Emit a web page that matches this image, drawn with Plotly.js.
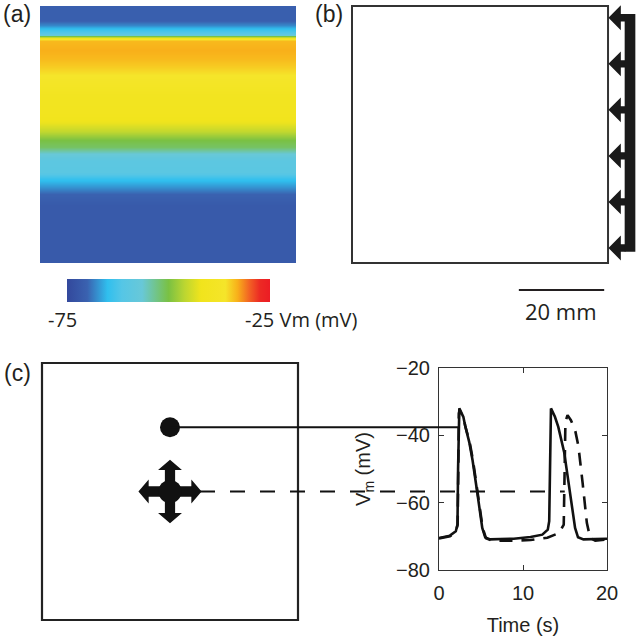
<!DOCTYPE html>
<html>
<head>
<meta charset="utf-8">
<script src="https://cdn.plot.ly/plotly-3.0.1.min.js"></script>
<style>
  html, body { margin: 0; padding: 0; background: #fff; }
  #chart { width: 637px; height: 638px; }
</style>
</head>
<body>
<div id="chart"></div>
<script>
// (a) Vm across the sheet, depth measured from the top edge (mm)
const depthMm = [0, 3.3, 4.4, 5.4, 6.3, 6.9, 7.1, 7.4, 7.7, 8.2, 10.3, 12.1, 14.0, 16.1, 18.5, 20.8, 25.5, 27.3, 29.2, 31.3, 32.9, 34.3, 36.0, 38.8, 40.4, 42.0, 43.9, 46.5, 60];
const vmProfile = [-70.5, -70.5, -68, -64.5, -61, -55, -50, -42, -36, -33.5, -33, -33.5, -34.5, -36, -38, -40, -41, -42.5, -45.5, -50, -51.5, -56, -59.5, -60, -64.5, -67, -70, -71.5, -71.5];
const sheetWidthMm = [0, 60];
const vmRange = [-75, -25];

// (b) stimulus sites on the right edge (mm from bottom), scale bar
const stimRowsMm = [3.5, 14.25, 25, 35.75, 46.5, 57.25];
const scaleBarMm = 20;

// (c) recording sites: fixed (dot) and moving (cross), mm in the sheet
const siteX = [30, 30];
const siteY = [45, 30];
const linkEndTime = [2.3, 14.97];

// (c) Vm traces
const timeFixed = [0, 1.3, 2.0, 2.2, 2.27, 2.33, 2.42, 2.9, 3.1, 3.6, 4.0, 4.5, 4.85, 5.15, 5.5, 6.1, 8.9, 10.9, 12.3, 12.95, 13.12, 13.2, 13.25, 13.33, 13.8, 14.2, 14.9, 15.45, 15.85, 16.2, 16.55, 17.2, 20];
const vmFixed = [-70.5, -69.8, -68.5, -66.5, -50, -33, -32, -34.5, -37, -42, -47.5, -56, -63, -67.5, -70.3, -70.9, -70.7, -70.2, -69.5, -68, -65.5, -50, -33, -32, -34.5, -37.5, -45, -54, -62, -67.5, -70.3, -70.9, -70.7];
const timeMoving = [0, 1.3, 2.0, 2.22, 2.3, 2.36, 2.46, 2.95, 3.15, 3.65, 4.05, 4.55, 4.9, 5.2, 5.6, 6.3, 9, 10.9, 12.9, 14.3, 14.85, 14.95, 15.05, 15.3, 15.7, 16.2, 16.6, 17.1, 17.35, 17.6, 18.0, 18.6, 20];
const vmMoving = [-70.6, -70.0, -68.7, -66.5, -50, -33.5, -32.5, -35, -37.5, -42, -47.5, -56, -63, -67.5, -70.6, -71.3, -71.3, -71.1, -70.4, -69, -66.5, -55, -36, -34, -35.5, -38.4, -43.3, -54.2, -60, -66, -70.5, -71.3, -70.9];
const timeTicks = [0, 10, 20];
const vmTicks = [-80, -60, -40, -20];

const W = 637, H = 638;
const ink = '#231f20';
const jetLike = [
  [0, '#33489c'], [0.1, '#3a62b0'], [0.2, '#30bfee'], [0.27, '#55c6e6'],
  [0.37, '#68c8d8'], [0.5, '#7ac143'], [0.58, '#bcd631'], [0.66, '#f1e41c'],
  [0.78, '#f5e52a'], [0.84, '#f8b01a'], [0.9, '#f26024'], [0.95, '#ec2a24'], [1, '#ec1c24']
];

const fx = px => px / W;
const fy = py => 1 - py / H;

const xa = { domain: [fx(40), fx(296)], range: [0, 60], visible: false, fixedrange: true };
const ya = { domain: [fy(263), fy(6)], range: [60, 0], visible: false, fixedrange: true };
const xb = { domain: [fx(345), 1], range: [-1.64, 66.79], visible: false };
const yb = { domain: [fy(320), fy(2)], range: [-13.31, 60.93], visible: false };
const xc = { domain: [fx(42), fx(298)], range: [0, 60], visible: false };
const yc = { domain: [fy(620), fy(363)], range: [0, 60], visible: false };

const tickFont = { family: 'Liberation Sans, Arial, sans-serif', size: 20, color: ink };
const xd = {
  domain: [fx(439), fx(607)], range: [0, 20], tickvals: timeTicks,
  ticks: 'inside', ticklen: 5, tickcolor: '#333', mirror: 'ticks',
  showline: true, linecolor: '#333', linewidth: 1, showgrid: false, zeroline: false,
  tickfont: tickFont, ticklabelstandoff: 5,
  title: { text: 'Time (s)', font: tickFont, standoff: 14 }
};
const yd = {
  domain: [fy(570), fy(368)], range: [-80, -20], tickvals: vmTicks,
  ticks: 'inside', ticklen: 5, tickcolor: '#333', mirror: 'ticks',
  showline: true, linecolor: '#333', linewidth: 1, showgrid: false, zeroline: false,
  tickfont: tickFont, ticklabelstandoff: 4,
  title: { text: 'V<sub>m</sub> (mV)', font: tickFont, standoff: 20 }
};

function toPaper(ax, v) {
  const [d0, d1] = ax.domain, [r0, r1] = ax.range;
  return d0 + (v - r0) / (r1 - r0) * (d1 - d0);
}

const traces = [
  {
    type: 'heatmap', x: sheetWidthMm, y: depthMm, z: vmProfile.map(v => [v, v]),
    zmin: vmRange[0], zmax: vmRange[1], colorscale: jetLike, zsmooth: 'best',
    xaxis: 'x', yaxis: 'y', hoverinfo: 'skip',
    colorbar: {
      orientation: 'h', x: fx(67), xanchor: 'left', y: fy(279), yanchor: 'top',
      len: 203, lenmode: 'pixels', thickness: 23, thicknessmode: 'pixels',
      outlinewidth: 0, showticklabels: false, ticks: '', xpad: 0, ypad: 0
    }
  },
  {
    type: 'scatter', mode: 'markers', x: [siteX[0]], y: [siteY[0]],
    marker: { size: 20, color: '#111' }, xaxis: 'x3', yaxis: 'y3', hoverinfo: 'skip'
  },
  {
    type: 'scatter', mode: 'lines', x: timeFixed, y: vmFixed,
    line: { color: '#111', width: 2.6 }, xaxis: 'x4', yaxis: 'y4'
  },
  {
    type: 'scatter', mode: 'lines', x: timeMoving, y: vmMoving,
    line: { color: '#111', width: 2.6, dash: '13px,9px' }, xaxis: 'x4', yaxis: 'y4'
  }
];

const shapes = [];

// (b) sheet outline, pacing arrows and scale bar
shapes.push({ type: 'rect', xref: 'x2', yref: 'y2', x0: 0, x1: 60, y0: 0, y1: 60, line: { color: '#333', width: 2 } });
const tipX = 60.1, baseX = 63.0, barL = 63.9, barR = 66.4, headH = 2.9, shaftH = 0.85;
stimRowsMm.forEach(r => {
  shapes.push({
    type: 'path', xref: 'x2', yref: 'y2', fillcolor: '#1a1a1a', line: { width: 0 },
    path: `M${tipX},${r} L${baseX},${r + headH} L${baseX},${r + shaftH} L${barL + 0.2},${r + shaftH} L${barL + 0.2},${r - shaftH} L${baseX},${r - shaftH} L${baseX},${r - headH} Z`
  });
});
shapes.push({
  type: 'rect', xref: 'x2', yref: 'y2', x0: barL, x1: barR,
  y0: Math.min(...stimRowsMm) - 0.85, y1: Math.max(...stimRowsMm) + 0.85,
  fillcolor: '#1a1a1a', line: { width: 0 }
});
shapes.push({ type: 'line', xref: 'x2', yref: 'y2', x0: 59.1 - scaleBarMm, x1: 59.1, y0: -6.3, y1: -6.3, line: { color: ink, width: 2 } });

// (c) sheet outline
shapes.push({ type: 'rect', xref: 'x3 domain', yref: 'y3 domain', x0: 0, x1: 1, y0: 0, y1: 1, line: { color: '#222', width: 2.2 } });

// links from recording sites to the traces
[0, 1].forEach(i => {
  const yy = toPaper(yc, siteY[i]);
  shapes.push({
    type: 'line', xref: 'paper', yref: 'paper',
    x0: toPaper(xc, siteX[i]), x1: toPaper(xd, linkEndTime[i]), y0: yy, y1: yy,
    line: { color: '#111', width: 2, dash: i === 0 ? 'solid' : '15px,15px' }
  });
});

// moving site: four-way arrow
(function () {
  const cx = siteX[1], cy = siteY[1];
  const aw = 1.2, hb = 5.0, tip = 7.4, hw = 2.8;
  const p = [
    [cx + aw, cy + aw], [cx + aw, cy + hb], [cx + hw, cy + hb], [cx, cy + tip], [cx - hw, cy + hb], [cx - aw, cy + hb],
    [cx - aw, cy + aw], [cx - hb, cy + aw], [cx - hb, cy + hw], [cx - tip, cy], [cx - hb, cy - hw], [cx - hb, cy - aw],
    [cx - aw, cy - aw], [cx - aw, cy - hb], [cx - hw, cy - hb], [cx, cy - tip], [cx + hw, cy - hb], [cx + aw, cy - hb],
    [cx + aw, cy - aw], [cx + hb, cy - aw], [cx + hb, cy - hw], [cx + tip, cy], [cx + hb, cy + hw], [cx + hb, cy + aw]
  ];
  shapes.push({
    type: 'path', xref: 'x3', yref: 'y3', fillcolor: '#111', line: { width: 0 },
    path: 'M' + p.map(q => q.join(',')).join(' L') + ' Z'
  });
  shapes.push({
    type: 'circle', xref: 'x3', yref: 'y3', x0: cx - 2.7, x1: cx + 2.7, y0: cy - 2.7, y1: cy + 2.7,
    fillcolor: '#111', line: { width: 0 }
  });
})();

const labelFont = { family: 'Liberation Sans, Arial, sans-serif', size: 23, color: ink };
const cbFont = { family: 'Open Sans, sans-serif', size: 20, color: ink };
const annotations = [
  { text: '(a)', x: fx(17), y: fy(14), font: labelFont },
  { text: '(b)', x: fx(329), y: fy(14), font: labelFont },
  { text: '(c)', x: fx(17), y: fy(373), font: labelFont },
  { text: '-75', x: fx(62), y: fy(320), font: cbFont },
  { text: '-25 Vm (mV)', x: fx(243), y: fy(320), xanchor: 'left', font: cbFont },
  { text: scaleBarMm + ' mm', x: fx(561), y: fy(311), font: { family: 'Open Sans, sans-serif', size: 22, color: ink } }
].map(a => Object.assign({ xref: 'paper', yref: 'paper', showarrow: false, xanchor: 'center', yanchor: 'middle' }, a));

const layout = {
  width: W, height: H,
  margin: { l: 0, r: 0, t: 0, b: 0 },
  paper_bgcolor: '#fff', plot_bgcolor: 'rgba(0,0,0,0)',
  showlegend: false,
  xaxis: Object.assign({ anchor: 'y' }, xa), yaxis: Object.assign({ anchor: 'x' }, ya),
  xaxis2: Object.assign({ anchor: 'y2' }, xb), yaxis2: Object.assign({ anchor: 'x2' }, yb),
  xaxis3: Object.assign({ anchor: 'y3' }, xc), yaxis3: Object.assign({ anchor: 'x3' }, yc),
  xaxis4: Object.assign({ anchor: 'y4' }, xd), yaxis4: Object.assign({ anchor: 'x4' }, yd),
  shapes: shapes,
  annotations: annotations
};

Plotly.newPlot('chart', traces, layout, { displayModeBar: false, staticPlot: true });
</script>
</body>
</html>
